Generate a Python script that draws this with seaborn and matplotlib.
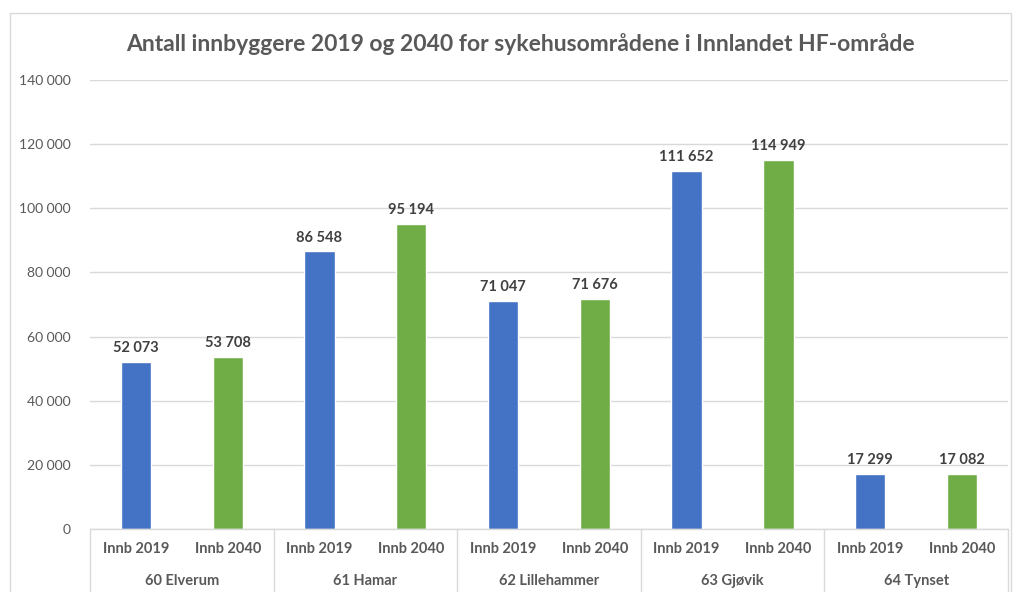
import matplotlib
matplotlib.use("Agg")
import matplotlib.pyplot as plt
import matplotlib.transforms as mtransforms
from matplotlib.patches import Rectangle
import pandas as pd
import seaborn as sns

# data
omrader = ["60 Elverum", "61 Hamar", "62 Lillehammer", "63 Gjøvik", "64 Tynset"]
aar = ["Innb 2019", "Innb 2040"]
innb_2019 = [52073, 86548, 71047, 111652, 17299]
innb_2040 = [53708, 95194, 71676, 114949, 17082]
farger = ["#4472C4", "#70AD47"]

rows = []
for i, omr in enumerate(omrader):
    rows.append({"slot": f"{omr}|{aar[0]}", "omrade": omr, "aar": aar[0], "innb": innb_2019[i]})
    rows.append({"slot": f"{omr}|{aar[1]}", "omrade": omr, "aar": aar[1], "innb": innb_2040[i]})
df = pd.DataFrame(rows)

sns.set_style("white")
plt.rcParams["font.family"] = ["Lato", "DejaVu Sans"]

fig = plt.figure(figsize=(10.16, 5.92), dpi=100)
ax = fig.add_axes([0.0886, 0.1064, 0.9034, 0.7584])

sns.barplot(data=df, x="slot", y="innb", hue="aar", palette=farger, saturation=1,
            dodge=False, width=0.33, legend=False, ax=ax)

ax.set_ylim(0, 140000)
ax.set_xlim(-0.5, len(df) - 0.5)
ax.set_yticks(range(0, 140001, 20000))
ax.set_yticklabels([f"{v:,}".replace(",", " ") for v in range(0, 140001, 20000)],
                   color="#595959", fontsize=10)
ax.yaxis.grid(True, color="#D9D9D9", linewidth=1)
ax.set_axisbelow(True)
ax.tick_params(axis="y", length=0, pad=14)
ax.tick_params(axis="x", length=0, pad=9)
ax.set_xticks(range(len(df)))
ax.set_xticklabels(df["aar"], color="#595959", fontsize=10.5, fontweight="bold")
ax.set_xlabel("")
ax.set_ylabel("")
for s in ax.spines.values():
    s.set_visible(False)

# data labels
for p, v in zip(range(len(df)), df["innb"]):
    ax.annotate(f"{v:,}".replace(",", " "), (p, v), xytext=(0, 5),
                textcoords="offset points", ha="center", va="bottom",
                fontsize=10.5, fontweight="bold", color="#404040")

# multi-level category axis
trans = mtransforms.blended_transform_factory(ax.transData, ax.transAxes)
ax.plot([-0.5, len(df) - 0.5], [0, 0], transform=trans, color="#D9D9D9",
        lw=1, clip_on=False)
for g in range(len(omrader) + 1):
    xg = g * 2 - 0.5
    ax.plot([xg, xg], [0, -0.2], transform=trans, color="#D9D9D9", lw=1, clip_on=False)
for g, omr in enumerate(omrader):
    ax.text(g * 2 + 0.5, -0.115, omr, transform=trans, ha="center", va="center",
            fontsize=10.5, fontweight="bold", color="#595959")

fig.text(0.512, 0.925, "Antall innbyggere 2019 og 2040 for sykehusområdene i Innlandet HF-område",
         ha="center", va="center", fontsize=16.5, fontweight="bold", color="#595959")

# chart frame
fig.patches.append(Rectangle((0.0098, -0.05), 0.985, 1.028, transform=fig.transFigure,
                             fill=False, edgecolor="#D9D9D9", lw=1))

fig.savefig("out.png", dpi=100)
